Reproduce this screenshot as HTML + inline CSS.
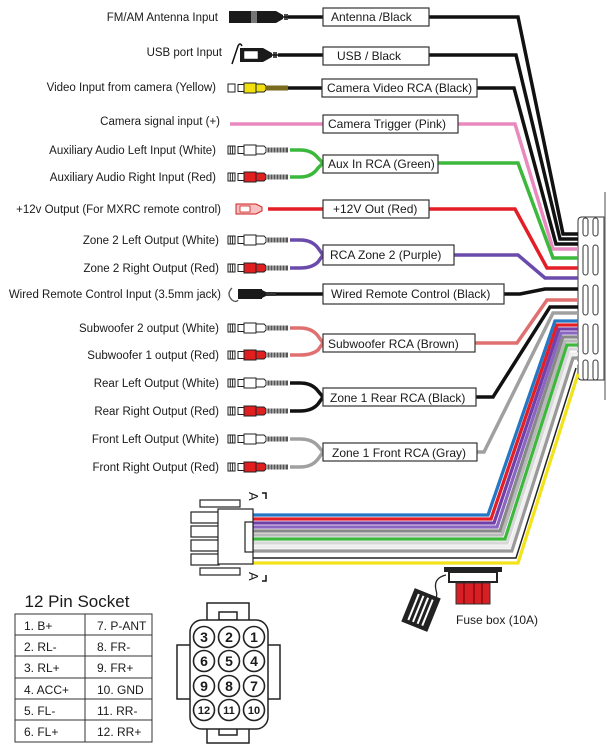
<!DOCTYPE html>
<html><head><meta charset="utf-8"><style>
html,body{margin:0;padding:0;background:#fff;}
svg{display:block;}
text{font-family:"Liberation Sans",sans-serif;fill:#1a1a1a;}
.l{font-size:11.5px;text-anchor:end;}
.b{font-size:12px;}
</style></head><body>
<svg width="616" height="755" viewBox="0 0 616 755" xmlns="http://www.w3.org/2000/svg">
<defs>
<g id="rcaW">
 <rect x="0" y="-4" width="7" height="8" fill="#fff" stroke="#222" stroke-width="1"/>
 <line x1="2.3" y1="-4" x2="2.3" y2="4" stroke="#222"/><line x1="4.6" y1="-4" x2="4.6" y2="4" stroke="#222"/>
 <rect x="10" y="-3.5" width="6" height="7" fill="#fff" stroke="#222"/>
 <rect x="16" y="-5" width="12" height="10" fill="#fff" stroke="#222"/>
 <path d="M28,-4 L36,-4 L38,-2 L38,2 L36,4 L28,4Z" fill="#fff" stroke="#222"/>
 <rect x="38" y="-2.5" width="22" height="5" fill="#555"/>
 <path d="M39,-2.5 v5 M42,-2.5 v5 M45,-2.5 v5 M48,-2.5 v5 M51,-2.5 v5 M54,-2.5 v5 M57,-2.5 v5" stroke="#ddd" stroke-width="1"/>
</g>
<g id="rcaR">
 <rect x="0" y="-4" width="7" height="8" fill="#fff" stroke="#222" stroke-width="1"/>
 <line x1="2.3" y1="-4" x2="2.3" y2="4" stroke="#222"/><line x1="4.6" y1="-4" x2="4.6" y2="4" stroke="#222"/>
 <rect x="10" y="-3.5" width="6" height="7" fill="#fff" stroke="#222"/>
 <rect x="16" y="-5" width="12" height="10" fill="#e02020" stroke="#222"/>
 <path d="M28,-4 L36,-4 L38,-2 L38,2 L36,4 L28,4Z" fill="#e02020" stroke="#222"/>
 <rect x="38" y="-2.5" width="22" height="5" fill="#555"/>
 <path d="M39,-2.5 v5 M42,-2.5 v5 M45,-2.5 v5 M48,-2.5 v5 M51,-2.5 v5 M54,-2.5 v5 M57,-2.5 v5" stroke="#ddd" stroke-width="1"/>
</g>
</defs>

<!-- right connector -->
<line x1="605" y1="192" x2="605" y2="400" stroke="#888" stroke-width="1.5"/>
<path d="M582,217 H604 V380 H582 Q578,380 578,376 V221 Q578,217 582,217Z" fill="#fff" stroke="#333" stroke-width="1"/>
<g fill="none" stroke="#333" stroke-width="1">
 <rect x="583" y="218" width="5" height="18" rx="2.5"/><rect x="593" y="218" width="5" height="18" rx="2.5"/>
 <rect x="583" y="245" width="5" height="30" rx="2.5"/><rect x="593" y="245" width="5" height="30" rx="2.5"/>
 <rect x="583" y="285" width="5" height="30" rx="2.5"/><rect x="593" y="285" width="5" height="30" rx="2.5"/>
 <rect x="583" y="324" width="5" height="30" rx="2.5"/><rect x="593" y="324" width="5" height="30" rx="2.5"/>
 <rect x="583" y="360" width="5" height="20" rx="2.5"/><rect x="593" y="360" width="5" height="20" rx="2.5"/>
</g>

<!-- wires top -->
<g fill="none" stroke-width="3.5" stroke-linejoin="miter">
 <path d="M288,17 H518 L563,234 H578" stroke="#111"/>
 <path d="M278,55 H516 L560,239 H578" stroke="#111"/>
 <path d="M288,88 H514 L556,244 H578" stroke="#111"/>
 <path d="M230,124 H515 L553,249 H578" stroke="#e889bf"/>
 <path d="M290,150 H300 Q312,150 318,158 L323,163 M290,177 H300 Q312,177 318,168 L323,163 M323,163 H518 L553,258 H578" stroke="#3cb83c"/>
 <path d="M268,209 H515 L547,268 H578" stroke="#e41e26"/>
 <path d="M290,240 H300 Q312,240 318,248 L323,255 M290,268 H300 Q312,268 318,262 L323,255 M323,255 H518 L545,278 H578" stroke="#6a4bab"/>
 <path d="M275,294 H520 L545,289 H578" stroke="#111"/>
 <path d="M290,328 H300 Q312,328 318,336 L323,343 M290,355 H300 Q312,355 318,350 L323,343 M323,343 H517 L547,300 H578" stroke="#e07070"/>
 <path d="M290,383 H300 Q312,383 318,391 L323,397 M290,411 H300 Q312,411 318,404 L323,397 M323,397 H493 L550,307 H578" stroke="#111"/>
 <path d="M290,439 H300 Q312,439 318,446 L323,452 M290,467 H300 Q312,467 318,459 L323,452 M323,452 H484 L553,313 H578" stroke="#a0a0a0"/>
</g>

<!-- bundle -->
<g fill="none" stroke-width="3.3">
 <path d="M253,515 H488 L555,321 H578" stroke="#2477c4"/>
 <path d="M253,519 H491 L557,325 H578" stroke="#e41e26"/>
 <path d="M253,523 H494 L559,329 H578" stroke="#7040a8"/>
 <path d="M253,527 H497 L561,333 H578" stroke="#8a66c0"/>
 <path d="M253,531 H500 L563,337 H578" stroke="#888"/>
 <path d="M253,535 H502 L565,341 H578" stroke="#b8b8b8"/>
 <path d="M253,539 H505 L567,345 H578" stroke="#3cb83c"/>
 <path d="M253,543 H507 L569,349 H578" stroke="#d8d8d8"/>
 <path d="M253,547 H510 L571,354 H578" stroke="#eee"/>
 <path d="M253,551 H512 L573,358 H578" stroke="#999"/>
 <path d="M253,555 H514 L575,363 H578" stroke="#fff"/>
 <path d="M253,558 H516 L576,368" stroke="#222" stroke-width="1.5"/>
 <path d="M253,563 H518 L578,374" stroke="#f2e31a"/>
</g>

<!-- boxes -->
<g fill="#fff" stroke="#333" stroke-width="1.2">
 <rect x="323" y="8" width="106" height="18"/>
 <rect x="323" y="47" width="106" height="18"/>
 <rect x="322" y="79" width="155" height="18"/>
 <rect x="323" y="115" width="135" height="18"/>
 <rect x="323" y="155" width="115" height="18"/>
 <rect x="323" y="200" width="106" height="18"/>
 <rect x="323" y="245" width="131" height="20"/>
 <rect x="323" y="284" width="181" height="20"/>
 <rect x="323" y="334" width="152" height="18"/>
 <rect x="323" y="388" width="153" height="18"/>
 <rect x="323" y="443" width="154" height="18"/>
</g>
<g class="b">
 <text x="331" y="21">Antenna /Black</text>
 <text x="337" y="60">USB / Black</text>
 <text x="327" y="92">Camera Video RCA (Black)</text>
 <text x="328" y="128">Camera Trigger (Pink)</text>
 <text x="328" y="168">Aux In RCA (Green)</text>
 <text x="333" y="213">+12V Out (Red)</text>
 <text x="330" y="259">RCA Zone 2  (Purple)</text>
 <text x="331" y="298">Wired Remote Control (Black)</text>
 <text x="328" y="348">Subwoofer RCA (Brown)</text>
 <text x="330" y="402">Zone 1 Rear RCA (Black)</text>
 <text x="332" y="457">Zone 1 Front RCA (Gray)</text>
</g>

<!-- left labels -->
<g class="l">
 <text x="218" y="21">FM/AM Antenna Input</text>
 <text x="222" y="56">USB port Input</text>
 <text x="216" y="91">Video Input from camera (Yellow)</text>
 <text x="220" y="125">Camera signal input (+)</text>
 <text x="216" y="154">Auxiliary Audio Left Input (White)</text>
 <text x="216" y="181">Auxiliary Audio Right Input (Red)</text>
 <text x="221" y="213">+12v Output (For MXRC remote control)</text>
 <text x="219" y="244">Zone 2 Left Output (White)</text>
 <text x="219" y="272">Zone 2 Right Output (Red)</text>
 <text x="221" y="298">Wired Remote Control Input (3.5mm jack)</text>
 <text x="219" y="332">Subwoofer 2 output (White)</text>
 <text x="219" y="359">Subwoofer 1 output (Red)</text>
 <text x="219" y="387">Rear Left Output (White)</text>
 <text x="219" y="415">Rear Right Output  (Red)</text>
 <text x="219" y="443">Front Left Output (White)</text>
 <text x="219" y="471">Front Right Output (Red)</text>
</g>

<!-- connectors left -->
<g>
 <rect x="229" y="11" width="47" height="12" fill="#1a1a1a"/>
 <path d="M252,11 v12 M254,11 v12 M256,11 v12" stroke="#fff" stroke-width="0.8"/>
 <path d="M276,11 L283,15 V19 L276,23Z" fill="#1a1a1a"/>
 <path d="M283,17 H290 M285,14 v6 M287,14 v6" stroke="#111" stroke-width="1.5"/>
 <path d="M232,64 L238,46 Q240,42 242,46" fill="none" stroke="#111" stroke-width="1.5"/>
 <path d="M240,48 H263 L272,53 V57 L263,62 H240Z" fill="#1a1a1a"/>
 <rect x="244" y="51" width="14" height="8" fill="#fff" stroke="#111" stroke-width="0.5"/>
 <path d="M272,55 H280 M274,52 v6 M276,52 v6" stroke="#111" stroke-width="1.5"/>
</g>
<g>
 <rect x="228" y="84" width="7" height="8" fill="#fff" stroke="#222"/>
 <rect x="238" y="84.5" width="6" height="7" fill="#fff" stroke="#222"/>
 <rect x="244" y="83" width="12" height="10" fill="#f0e010" stroke="#222"/>
 <path d="M256,84 L264,84 L266,86 L266,90 L264,92 L256,92Z" fill="#f0e010" stroke="#222"/>
 <rect x="266" y="85.5" width="22" height="5" fill="#7a6a20"/>
</g>
<use href="#rcaW" x="228" y="150"/>
<use href="#rcaR" x="228" y="177"/>
<g>
 <path d="M236,204 H256 L262,207 V211 L256,214 H236Z" fill="#f6c0c0" stroke="#d02020"/>
 <rect x="240" y="206" width="10" height="6" fill="#fff" stroke="#d02020" stroke-width="0.8"/>
</g>
<use href="#rcaW" x="228" y="240"/>
<use href="#rcaR" x="228" y="268"/>
<g>
 <path d="M232,288 Q226,294 232,300 Q236,303 238,300" fill="none" stroke="#555" stroke-width="1.3"/>
 <rect x="238" y="289" width="24" height="10" fill="#1a1a1a"/>
 <path d="M262,290 L266,292 V296 L262,298Z" fill="#1a1a1a"/>
 <rect x="266" y="292" width="10" height="4" fill="#333"/>
</g>
<use href="#rcaW" x="228" y="328"/>
<use href="#rcaR" x="228" y="355"/>
<use href="#rcaW" x="228" y="383"/>
<use href="#rcaR" x="228" y="411"/>
<use href="#rcaW" x="228" y="439"/>
<use href="#rcaR" x="228" y="467"/>

<!-- plug -->
<g fill="#fff" stroke="#222" stroke-width="1.2">
 <rect x="200" y="500" width="40" height="7"/>
 <rect x="200" y="568" width="40" height="7"/>
 <rect x="191" y="512" width="28" height="11"/>
 <rect x="191" y="526" width="28" height="11"/>
 <rect x="191" y="540" width="28" height="11"/>
 <rect x="191" y="554" width="28" height="11"/>
 <rect x="218" y="509" width="35" height="55"/>
 <rect x="245" y="522" width="8" height="30"/>
</g>
<text x="0" y="0" font-size="13" transform="translate(249,492) rotate(90)">A</text>
<text x="0" y="0" font-size="13" transform="translate(249,572) rotate(90)">A</text>
<path d="M262,493 h4 v6" fill="none" stroke="#111" stroke-width="1.5"/>
<path d="M262,581 h4 v-6" fill="none" stroke="#111" stroke-width="1.5"/>

<!-- fuse -->
<rect x="444" y="567" width="58" height="5" fill="#222"/>
<rect x="449" y="572" width="48" height="10" fill="#fff" stroke="#222" stroke-width="2"/>
<rect x="456" y="583" width="34" height="21" fill="#d81f26" stroke="#333"/>
<path d="M464,583 v21 M474,583 v21 M482,583 v21" stroke="#600" stroke-width="1"/>
<path d="M446,575 Q433,578 436,590 Q439,600 430,602" fill="none" stroke="#222" stroke-width="1.3"/>
<g transform="translate(421,610) rotate(22)">
 <rect x="-14" y="-18" width="28" height="36" fill="#222"/>
 <path d="M-8,-14 v28 M-3,-14 v28 M2,-14 v28 M7,-14 v28" stroke="#fff" stroke-width="2"/>
</g>
<text x="456" y="624" font-size="12">Fuse box (10A)</text>

<!-- table -->
<text x="77" y="607" font-size="17" text-anchor="middle">12 Pin Socket</text>
<g fill="none" stroke="#333" stroke-width="1">
 <rect x="15" y="614" width="137" height="128"/>
 <line x1="85" y1="614" x2="85" y2="742"/>
 <line x1="15" y1="635" x2="152" y2="635"/>
 <line x1="15" y1="656" x2="152" y2="656"/>
 <line x1="15" y1="678" x2="152" y2="678"/>
 <line x1="15" y1="699" x2="152" y2="699"/>
 <line x1="15" y1="720" x2="152" y2="720"/>
</g>
<g font-size="12">
 <text x="24" y="630">1. B+</text><text x="97" y="630">7. P-ANT</text>
 <text x="24" y="651">2. RL-</text><text x="97" y="651">8. FR-</text>
 <text x="24" y="672">3. RL+</text><text x="97" y="672">9. FR+</text>
 <text x="24" y="694">4. ACC+</text><text x="97" y="694">10. GND</text>
 <text x="24" y="715">5. FL-</text><text x="97" y="715">11. RR-</text>
 <text x="24" y="736">6. FL+</text><text x="97" y="736">12. RR+</text>
</g>

<!-- socket -->
<g fill="#fff" stroke="#222" stroke-width="1.5">
 <rect x="207" y="603" width="42" height="20"/>
 <rect x="219" y="612" width="18" height="8"/>
 <rect x="207" y="727" width="42" height="16"/>
 <rect x="219" y="727" width="18" height="8"/>
 <rect x="177" y="645" width="14" height="54"/>
 <rect x="266" y="645" width="14" height="54"/>
 <rect x="190" y="620" width="78" height="109" rx="12"/>
</g>
<g fill="#fff" stroke="#222" stroke-width="1.6">
 <circle cx="204" cy="637" r="10.5"/><circle cx="229" cy="637" r="10.5"/><circle cx="254" cy="637" r="10.5"/>
 <circle cx="204" cy="661" r="10.5"/><circle cx="229" cy="661" r="10.5"/><circle cx="254" cy="661" r="10.5"/>
 <circle cx="204" cy="686" r="10.5"/><circle cx="229" cy="686" r="10.5"/><circle cx="254" cy="686" r="10.5"/>
 <circle cx="204" cy="710" r="10.5"/><circle cx="229" cy="710" r="10.5"/><circle cx="254" cy="710" r="10.5"/>
</g>
<g font-size="14" font-weight="bold" text-anchor="middle">
 <text x="204" y="642">3</text><text x="229" y="642">2</text><text x="254" y="642">1</text>
 <text x="204" y="666">6</text><text x="229" y="666">5</text><text x="254" y="666">4</text>
 <text x="204" y="691">9</text><text x="229" y="691">8</text><text x="254" y="691">7</text>
</g>
<g font-size="11" font-weight="bold" text-anchor="middle">
 <text x="204" y="714">12</text><text x="229" y="714">11</text><text x="254" y="714">10</text>
</g>
</svg>
</body></html>
